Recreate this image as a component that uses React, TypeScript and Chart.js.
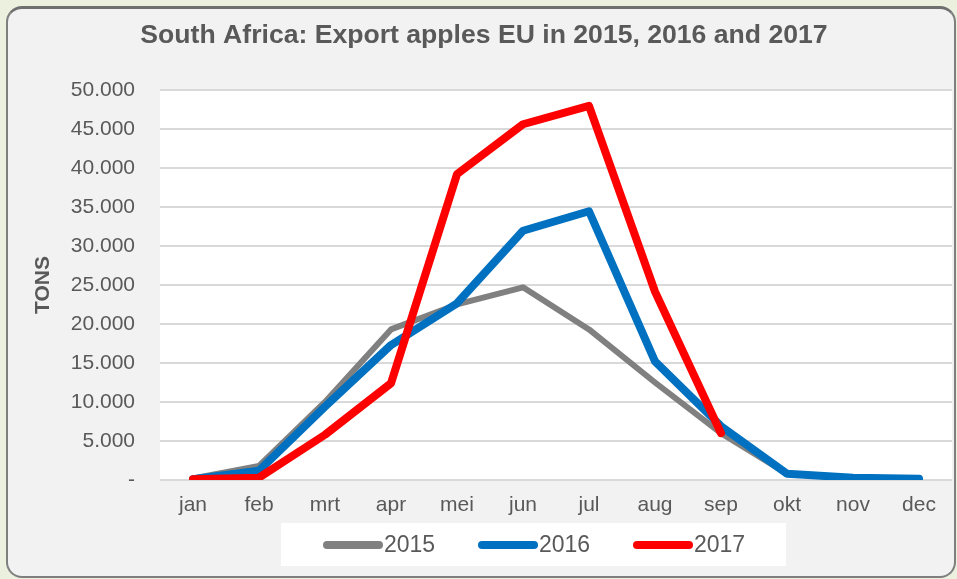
import React, { useEffect, useRef } from "react";
import { Chart, registerables } from "chart.js";

Chart.register(...registerables);

const months = ["jan", "feb", "mrt", "apr", "mei", "jun", "jul", "aug", "sep", "okt", "nov", "dec"];
const exports2015 = [200, 1800, 10000, 19300, 22500, 24700, 19300, 12500, 6000, 800, 200, 100];
const exports2016 = [100, 1200, 9400, 17300, 22650, 31950, 34450, 15200, 6900, 800, 300, 170];
const exports2017 = [100, 300, 5800, 12400, 39200, 45600, 47950, 24150, 6000, null, null, null];
const seriesLabels = ["2015", "2016", "2017"];
const seriesColors = ["#808080", "#0070C0", "#FF0000"];
const yMax = 50000;
const yStep = 5000;
const titleText = "South Africa: Export apples EU in 2015, 2016 and 2017";
const yTitle = "TONS";

const FONT = "'Liberation Sans', Arial, sans-serif";
const TEXT = "#595959";

function formatTons(v: number): string {
  if (v === 0) return "-";
  const s = Math.round(v).toString();
  return s.replace(/\B(?=(\d{3})+(?!\d))/g, ".");
}

const plotBgPlugin = {
  id: "plotBg",
  beforeDraw(chart: any) {
    const { ctx, chartArea } = chart;
    ctx.save();
    ctx.fillStyle = "#ffffff";
    ctx.fillRect(chartArea.left, chartArea.top, chartArea.right - chartArea.left, chartArea.bottom - chartArea.top);
    ctx.restore();
  },
};

const legendPlugin = {
  id: "customLegend",
  afterDraw(chart: any) {
    const { ctx } = chart;
    ctx.save();
    ctx.fillStyle = "#ffffff";
    ctx.fillRect(281, 523, 505, 43);
    const y = 545;
    chart.data.datasets.forEach((ds: any, i: number) => {
      const x0 = 323 + i * 155;
      ctx.strokeStyle = ds.borderColor;
      ctx.lineWidth = 8;
      ctx.lineCap = "round";
      ctx.beginPath();
      ctx.moveTo(x0 + 4, y);
      ctx.lineTo(x0 + 56, y);
      ctx.stroke();
      ctx.fillStyle = TEXT;
      ctx.font = `23px ${FONT}`;
      ctx.textBaseline = "middle";
      ctx.textAlign = "left";
      ctx.fillText(ds.label, x0 + 61, y + 1);
    });
    ctx.restore();
  },
};

export default function App() {
  const canvasRef = useRef<HTMLCanvasElement | null>(null);

  useEffect(() => {
    if (!canvasRef.current) return;
    const series = [exports2015, exports2016, exports2017];
    const widths = [6, 8, 8];
    const chart = new Chart(canvasRef.current, {
      type: "line",
      data: {
        labels: months,
        datasets: series.map((d, i) => ({
          label: seriesLabels[i],
          data: d,
          borderColor: seriesColors[i],
          backgroundColor: seriesColors[i],
          borderWidth: widths[i],
          pointRadius: 0,
          pointHoverRadius: 0,
          borderJoinStyle: "round" as const,
          borderCapStyle: "round" as const,
          tension: 0,
          spanGaps: false,
          order: 3 - i,
        })),
      },
      options: {
        animation: false,
        responsive: false,
        maintainAspectRatio: false,
        layout: { padding: { left: 16, right: 5, top: 0, bottom: 0 } },
        plugins: {
          legend: { display: false },
          tooltip: { enabled: false },
          title: {
            display: true,
            text: titleText,
            color: TEXT,
            font: { family: FONT, size: 26.6, weight: "bold" },
            padding: { top: 20, bottom: 38 },
          },
        },
        scales: {
          x: {
            offset: true,
            grid: { display: false, drawTicks: false },
            border: { display: false },
            ticks: {
              color: TEXT,
              font: { family: FONT, size: 21 },
              padding: 13,
              maxRotation: 0,
              autoSkip: false,
            },
            afterFit(scale: any) {
              scale.height = 99;
            },
          },
          y: {
            min: 0,
            max: yMax,
            grid: { color: "#d9d9d9", lineWidth: 2, drawTicks: false },
            border: { display: false },
            ticks: {
              stepSize: yStep,
              color: TEXT,
              font: { family: FONT, size: 21 },
              padding: 25,
              callback: (v: any) => formatTons(Number(v)),
            },
            title: {
              display: true,
              text: yTitle,
              color: TEXT,
              font: { family: FONT, size: 21, weight: "bold" },
              padding: { top: 15, bottom: 0 },
            },
            afterFit(scale: any) {
              scale.width = 144;
            },
          },
        },
      },
      plugins: [plotBgPlugin, legendPlugin],
    });
    return () => chart.destroy();
  }, []);

  return (
    <div style={{ position: "fixed", left: 0, top: 0, width: 957, height: 579, background: "#ebf1de", overflow: "hidden" }}>
      <div
        style={{
          position: "absolute",
          left: 6,
          top: 6,
          width: 950,
          height: 572,
          boxSizing: "border-box",
          background: "#f2f2f2",
          border: "2px solid #7f7f7f",
          borderTop: "3px solid #6f6f6f",
          borderRadius: 16,
        }}
      />
      <canvas ref={canvasRef} width={957} height={579} style={{ position: "absolute", left: 0, top: 0, width: 957, height: 579 }} />
    </div>
  );
}
